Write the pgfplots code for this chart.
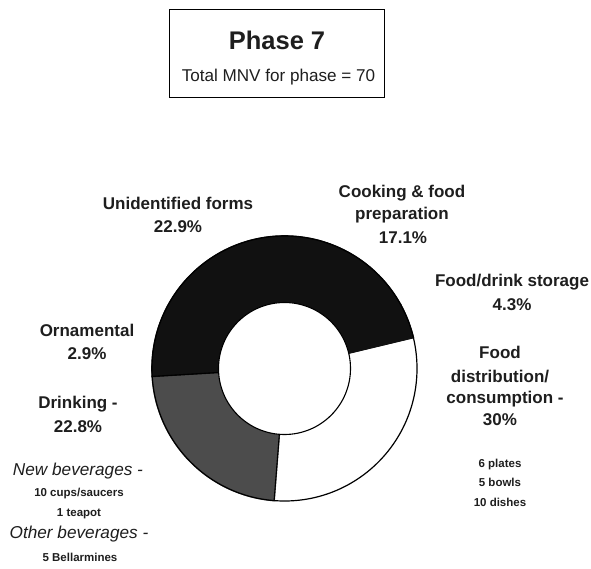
\documentclass[border=0pt]{standalone}
\usepackage{pgfplots}
\usepackage{pgfplotstable}
\pgfplotsset{compat=1.18}
\usepackage{fontspec}
\setmainfont{Liberation Sans}

\definecolor{ink}{HTML}{111111}
\definecolor{drink}{HTML}{4C4C4C}
\definecolor{textgray}{HTML}{1E1E1E}

% share of MNV (%) per use category, clockwise from the upper right
\pgfplotstableread{
share shade
30   white
22.8 drink
2.9  ink
22.9 ink
17.1 ink
4.3  ink
}\phaseseven

\begin{document}
\begin{tikzpicture}[
  lab/.style={font=\fontsize{17}{20}\selectfont\bfseries, text=textgray, inner sep=0pt, anchor=base},
  small/.style={font=\fontsize{11.5}{13}\selectfont\bfseries, text=textgray, inner sep=0pt, anchor=base},
  ital/.style={font=\fontsize{17.2}{20}\selectfont\itshape, text=textgray, inner sep=0pt, anchor=base},
]
\begin{axis}[
  at={(0,0)}, anchor=origin,
  scale only axis, width=591pt, height=568pt,
  xmin=0, xmax=591, ymin=0, ymax=568,
  hide axis, clip=false,
]
\def\cx{284.5}\def\cy{199.5}
\def\angstart{13.5}
\def\prevshade{ink}
\pgfplotstablegetrowsof{\phaseseven}
\pgfmathtruncatemacro\lastrow{\pgfplotsretval-1}
\pgfplotsforeachungrouped \i in {0,...,\lastrow}{
  \pgfplotstablegetelem{\i}{share}\of\phaseseven \let\share\pgfplotsretval
  \pgfplotstablegetelem{\i}{shade}\of\phaseseven \edef\shade{\pgfplotsretval}
  \pgfmathsetmacro\angend{\angstart-3.6*\share}
  \pgfmathsetmacro\angback{\angend+180}
  \edef\temp{\noexpand\filldraw[fill=\shade, draw=\shade, line width=1.6pt]
    (axis cs:\cx,\cy) ++(\angstart:132.5pt)
    arc[start angle=\angstart, end angle=\angend, radius=132.5pt]
    -- ++(\angback:66.5pt)
    arc[start angle=\angend, end angle=\angstart, radius=66pt] -- cycle;}
  \temp
  % separator only where the shading changes
  \ifx\shade\prevshade\else
    \edef\temp{\noexpand\draw[line width=1.1pt]
      (axis cs:\cx,\cy) ++(\angstart:66pt) -- ++(\angstart:66.5pt);}
    \temp
  \fi
  \let\prevshade\shade
  \let\angstart\angend
}
% clean ring edges over the slices
\fill[white] (axis cs:\cx,\cy) circle[radius=66pt];
\draw[line width=1.2pt] (axis cs:\cx,\cy) circle[radius=132.5pt];
\draw[line width=1.1pt] (axis cs:\cx,\cy) circle[radius=66pt];

% title box
\draw[line width=1pt] (axis cs:169,470) rectangle (axis cs:384,558);
\node[lab, font=\fontsize{25.5}{30}\selectfont\bfseries] at (axis cs:277,518) {Phase 7};
\node[lab, font=\fontsize{17.1}{20}\selectfont] at (axis cs:278.5,486) {Total MNV for phase = 70};

% labels
\node[lab] at (axis cs:178,358) {Unidentified forms};
\node[lab] at (axis cs:178,335) {22.9\%};
\node[lab] at (axis cs:402,370) {Cooking \& food};
\node[lab] at (axis cs:402,348) {preparation};
\node[lab] at (axis cs:403,324) {17.1\%};
\node[lab] at (axis cs:512,281) {Food/drink storage};
\node[lab] at (axis cs:512,258) {4.3\%};
\node[lab] at (axis cs:87,232) {Ornamental};
\node[lab] at (axis cs:87,209) {2.9\%};
\node[lab] at (axis cs:78,160) {Drinking -};
\node[lab] at (axis cs:78,136) {22.8\%};
\node[ital] at (axis cs:78,93) {New beverages -};
\node[small] at (axis cs:79,72) {10 cups/saucers};
\node[small] at (axis cs:79,52) {1 teapot};
\node[ital] at (axis cs:79,30) {Other beverages -};
\node[small] at (axis cs:80,7) {5 Bellarmines};
\node[lab] at (axis cs:500,210) {Food};
\node[lab] at (axis cs:500,186) {distribution/};
\node[lab] at (axis cs:505,165) {consumption -};
\node[lab] at (axis cs:500,143) {30\%};
\node[small] at (axis cs:500,101) {6 plates};
\node[small] at (axis cs:500,82) {5 bowls};
\node[small] at (axis cs:500,62) {10 dishes};
\end{axis}
\pgfresetboundingbox
\useasboundingbox (0,0) rectangle (591pt,568pt);
\end{tikzpicture}
\end{document}
